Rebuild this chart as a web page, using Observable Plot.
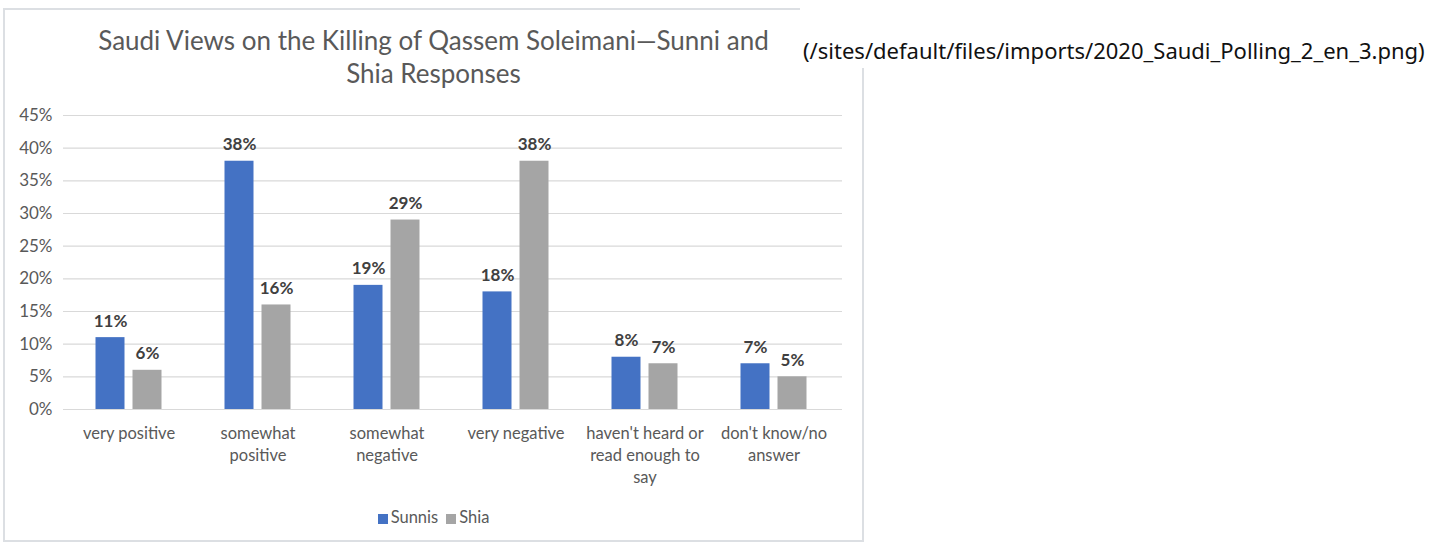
<!DOCTYPE html>
<html>
<head>
<meta charset="utf-8">
<script src="https://cdn.jsdelivr.net/npm/d3@7"></script>
<script src="https://cdn.jsdelivr.net/npm/@observablehq/plot@0.6"></script>
<style>
  html, body { margin: 0; padding: 0; background: #fff; }
  body { width: 1442px; height: 542px; position: relative; overflow: hidden; }
  #box { position: absolute; left: 3px; top: 8px; width: 857px; height: 530px; border: 2px solid #dcdfe3; background: #fff; }
  #title { position: absolute; left: 0; top: 14px; width: 857px; text-align: center; font-family: Lato, sans-serif; font-size: 26px; line-height: 33px; color: #595959; }
  #chart { position: absolute; left: 0; top: 82px; }
  #legend { position: absolute; left: 0; top: 497px; width: 857px; text-align: center; font-family: Lato, sans-serif; font-size: 16.5px; color: #595959; }
  #legend span.sw { display: inline-block; width: 10px; height: 10px; margin-right: 3px; vertical-align: -1px; }
  #legend span.item { margin: 0 4px; }
  #cover { position: absolute; left: 800px; top: 0; width: 642px; height: 68px; background: #fff; }
  #caption { position: absolute; left: 803px; top: 35px; font-family: "Noto Sans", sans-serif; font-size: 22px; color: #111; white-space: nowrap; }
</style>
</head>
<body>
<div id="box">
  <div id="title">Saudi Views on the Killing of Qassem Soleimani—Sunni and<br>Shia Responses</div>
  <div id="chart"></div>
  <div id="legend"></div>
</div>
<div id="cover"></div>
<div id="caption">(/sites/default/files/imports/2020_Saudi_Polling_2_en_3.png)</div>
<script>
const categories = ["very positive", "somewhat\npositive", "somewhat\nnegative", "very negative", "haven't heard or\nread enough to\nsay", "don't know/no\nanswer"];
const seriesNames = ["Sunnis", "Shia"];
const sunnis = [11, 38, 19, 18, 8, 7];
const shia = [6, 16, 29, 38, 7, 5];
const yTicks = [0, 5, 10, 15, 20, 25, 30, 35, 40, 45];
const colors = ["#4472C4", "#A5A5A5"];

const sunniRows = categories.map((c, i) => ({category: c, series: "Sunnis", value: sunnis[i]}));
const shiaRows = categories.map((c, i) => ({category: c, series: "Shia", value: shia[i]}));

const labelStyle = {fontFamily: "Lato, sans-serif", fontSize: 17, fill: "#404040", fontWeight: "bold"};

const chart = Plot.plot({
  width: 857,
  height: 400,
  marginTop: 23,
  marginBottom: 83,
  marginLeft: 58,
  marginRight: 20,
  style: {fontFamily: "Lato, sans-serif", fontSize: "17px", color: "#595959", background: "transparent"},
  x: {domain: categories, range: [59.4, 833.4], padding: 0, axis: null},
  y: {domain: [0, 45], ticks: yTicks, tickFormat: d => d + "%", tickSize: 0, tickPadding: 11, label: null},
  marks: [
    Plot.ruleY(yTicks, {stroke: "#d9d9d9", strokeWidth: 1.2}),
    Plot.barY(sunniRows, {x: "category", y: "value", fill: colors[0], insetLeft: 31.5, insetRight: 68.5}),
    Plot.barY(shiaRows, {x: "category", y: "value", fill: colors[1], insetLeft: 68.5, insetRight: 31.5}),
    Plot.text(sunniRows, {x: "category", y: "value", text: d => d.value + "%", dx: -18.5, dy: -11, lineAnchor: "bottom", ...labelStyle}),
    Plot.text(shiaRows, {x: "category", y: "value", text: d => d.value + "%", dx: 18.5, dy: -11, lineAnchor: "bottom", ...labelStyle}),
    Plot.text(categories, {x: d => d, text: d => d, frameAnchor: "bottom", lineAnchor: "top", dy: 14, lineHeight: 1.33, fontSize: 16.5, fill: "#595959"})
  ]
});
document.getElementById("chart").appendChild(chart);

const legend = document.getElementById("legend");
seriesNames.forEach((name, i) => {
  const item = document.createElement("span");
  item.className = "item";
  const sw = document.createElement("span");
  sw.className = "sw";
  sw.style.background = colors[i];
  item.appendChild(sw);
  item.appendChild(document.createTextNode(name));
  legend.appendChild(item);
});
</script>
</body>
</html>
